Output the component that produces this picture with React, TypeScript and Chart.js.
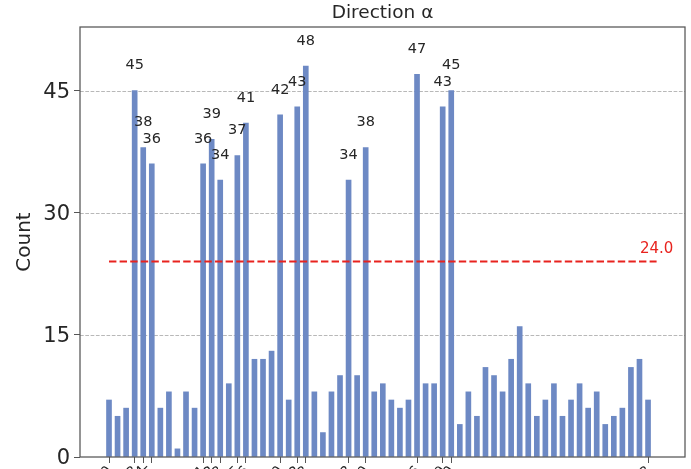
import React, { useEffect, useRef } from 'react';
import { Chart, registerables } from 'chart.js';

Chart.register(...registerables);

// Bar counts, one per bin
const counts: number[] = [
  7, 5, 6, 45, 38, 36, 6, 8, 1, 8,
  6, 36, 39, 34, 9, 37, 41, 12, 12, 13,
  42, 7, 43, 48, 8, 3, 8, 10, 34, 10,
  38, 8, 9, 7, 6, 7, 47, 9, 9, 43,
  45, 4, 8, 5, 11, 10, 8, 12, 16, 9,
  5, 7, 9, 5, 7, 9, 6, 8, 4, 5,
  6, 11, 12, 7,
];

// Bins that carry an x tick, and their (mostly cut-off) labels
const tickIndices: number[] = [0, 3, 4, 5, 11, 12, 13, 15, 16, 20, 22, 23, 28, 30, 36, 39, 40, 63];
const tickLabels: string[] = ['0', '3', '4', '5', '11', '12', '13', '15', '16', '20', '22', '23', '28', '30', '36', '39', '40', '63'];

const yTicks: number[] = [0, 15, 30, 45];
const threshold = 24.0;
const thresholdSpan: number[] = [0, 64];
const labelMin = 34;
const titleText = 'Direction α';
const yTitle = 'Count';

const FONT = "'DejaVu Sans', sans-serif";
const TEXT = '#262626';
const FRAME = '#555555';

const overlay = {
  id: 'overlay',
  beforeDatasetsDraw(chart: any) {
    const { ctx, chartArea, scales } = chart;
    const y = scales.y;
    ctx.save();
    ctx.strokeStyle = '#b8b8b8';
    ctx.lineWidth = 1;
    ctx.setLineDash([3.7, 1.6]);
    yTicks.forEach((v) => {
      if (v === 0) return;
      const py = Math.round(y.getPixelForValue(v)) + 0.5;
      ctx.beginPath();
      ctx.moveTo(chartArea.left, py);
      ctx.lineTo(chartArea.right, py);
      ctx.stroke();
    });
    ctx.restore();
  },
  afterDatasetsDraw(chart: any) {
    const { ctx, chartArea, scales } = chart;
    const x = scales.x;
    const y = scales.y;
    ctx.save();
    ctx.fillStyle = TEXT;
    ctx.font = `14.5px ${FONT}`;
    ctx.textAlign = 'center';
    ctx.textBaseline = 'middle';
    counts.forEach((v, i) => {
      if (v >= labelMin) {
        ctx.fillText(String(v), x.getPixelForValue(i), y.getPixelForValue(v) - 25);
      }
    });
    // threshold label
    ctx.fillStyle = '#e8231e';
    ctx.font = `15px ${FONT}`;
    ctx.fillText(threshold.toFixed(1), x.getPixelForValue(thresholdSpan[1]), y.getPixelForValue(threshold) - 12);
    // frame
    ctx.strokeStyle = FRAME;
    ctx.lineWidth = 1.25;
    ctx.setLineDash([]);
    ctx.strokeRect(chartArea.left, chartArea.top, chartArea.right - chartArea.left, chartArea.bottom - chartArea.top);
    // rotated x tick labels (cut off by the canvas edge)
    ctx.fillStyle = TEXT;
    ctx.font = `14px ${FONT}`;
    ctx.textAlign = 'right';
    ctx.textBaseline = 'top';
    tickIndices.forEach((t, k) => {
      const px = x.getPixelForValue(t);
      ctx.save();
      ctx.translate(px - 4, chartArea.bottom + 7);
      ctx.rotate(-Math.PI / 4);
      ctx.fillText(tickLabels[k], 0, 0);
      ctx.restore();
    });
    // title
    ctx.fillStyle = TEXT;
    ctx.font = `18.5px ${FONT}`;
    ctx.textAlign = 'center';
    ctx.textBaseline = 'middle';
    ctx.fillText(titleText, (chartArea.left + chartArea.right) / 2, 13);
    ctx.restore();
  },
};

export default function App() {
  const ref = useRef<HTMLCanvasElement | null>(null);

  useEffect(() => {
    document.body.style.margin = '0';
    const canvas = ref.current;
    if (!canvas) return;
    const chart = new Chart(canvas, {
      type: 'bar',
      data: {
        datasets: [
          {
            type: 'bar',
            data: counts.map((v, i) => ({ x: i, y: v })),
            backgroundColor: '#6d89c4',
            barThickness: 5,
            order: 2,
          } as any,
          {
            type: 'line',
            data: thresholdSpan.map((xv) => ({ x: xv, y: threshold })),
            borderColor: '#e8231e',
            borderWidth: 2,
            borderDash: [7.4, 3.2],
            pointRadius: 0,
            fill: false,
            order: 1,
          } as any,
        ],
      },
      options: {
        responsive: false,
        animation: false,
        devicePixelRatio: 1,
        layout: { padding: { top: 27, right: 6, left: 0, bottom: 0 } },
        plugins: {
          legend: { display: false },
          tooltip: { enabled: false },
          title: { display: false },
        },
        scales: {
          x: {
            type: 'linear',
            min: -3.39,
            max: 67.32,
            offset: false,
            grid: { display: true, offset: false, drawOnChartArea: false, drawTicks: true, tickLength: 6, color: FRAME, lineWidth: 1 },
            border: { display: false },
            afterBuildTicks: (scale: any) => {
              scale.ticks = tickIndices.map((v) => ({ value: v }));
            },
            afterFit: (scale: any) => {
              scale.height = 12;
              scale.paddingLeft = 0;
              scale.paddingRight = 0;
              scale.paddingTop = 0;
              scale.paddingBottom = 0;
            },
            ticks: {
              autoSkip: false,
              maxRotation: 0,
              minRotation: 0,
              padding: 0,
              color: TEXT,
              font: { family: FONT, size: 14 },
              callback: () => '',
            },
          } as any,
          y: {
            type: 'linear',
            min: 0,
            max: 52.8,
            grid: { display: true, offset: false, drawOnChartArea: false, drawTicks: true, tickLength: 6, color: FRAME, lineWidth: 1 },
            border: { display: false },
            afterBuildTicks: (scale: any) => {
              scale.ticks = yTicks.map((v) => ({ value: v }));
            },
            afterFit: (scale: any) => {
              scale.width = 80;
              scale.paddingTop = 0;
              scale.paddingBottom = 0;
            },
            title: {
              display: true,
              text: yTitle,
              color: TEXT,
              font: { family: FONT, size: 20 },
              padding: { top: 13, bottom: 0 },
            },
            ticks: {
              color: TEXT,
              padding: 4,
              labelOffset: 2,
              font: { family: FONT, size: 21 },
              callback: (value: any) => String(value),
            },
          } as any,
        },
      },
      plugins: [overlay],
    });
    return () => chart.destroy();
  }, []);

  return (
    <div style={{ width: 691, height: 469, overflow: 'hidden' }}>
      <canvas ref={ref} width={691} height={469} style={{ display: 'block' }} />
    </div>
  );
}
